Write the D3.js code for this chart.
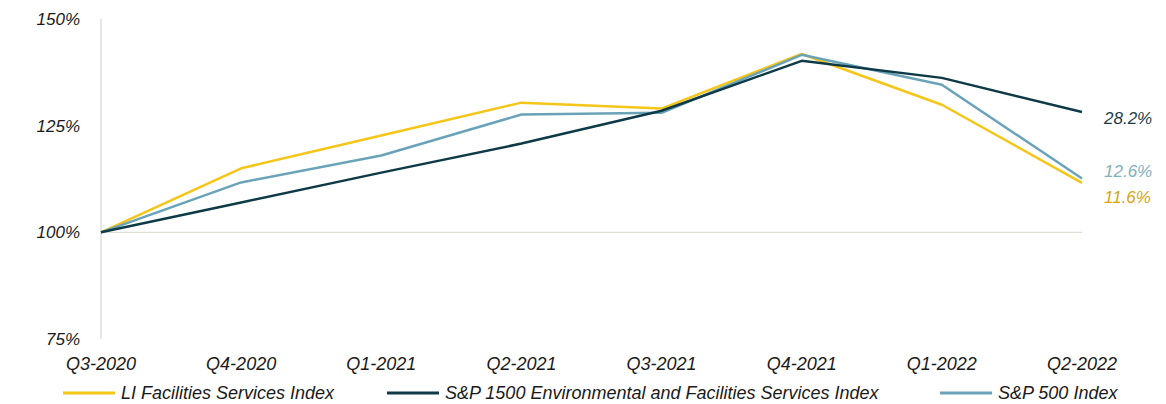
<!DOCTYPE html>
<html>
<head>
<meta charset="utf-8">
<script src="https://cdn.jsdelivr.net/npm/d3@7"></script>
<style>
  body { margin: 0; background: #fff; }
  text { font-family: "Liberation Sans", Arial, sans-serif; font-style: italic; }
</style>
</head>
<body>
<svg id="chart"></svg>
<script>
// Quarterly index performance (Q3-2020 = 100%)
const quarters = ["Q3-2020", "Q4-2020", "Q1-2021", "Q2-2021", "Q3-2021", "Q4-2021", "Q1-2022", "Q2-2022"];
const liFacilities = [100, 115.0, 122.7, 130.4, 129.0, 141.8, 129.9, 111.6];
const sp1500Env = [100, 107.0, 114.0, 120.8, 128.5, 140.2, 136.2, 128.2];
const sp500 = [100, 111.7, 118.0, 127.6, 128.0, 141.6, 134.6, 112.6];
const yTicks = [75, 100, 125, 150];
const seriesNames = ["LI Facilities Services Index", "S&P 1500 Environmental and Facilities Services Index", "S&P 500 Index"];
const endLabels = ["11.6%", "28.2%", "12.6%"];

const width = 1166, height = 404;
const colors = ["#f5c518", "#0e3a47", "#6aa3b8"];
const labelColors = ["#d4a514", "#1c3f4b", "#7fb0c3"];

const series = [liFacilities, sp1500Env, sp500].map((vals, i) => ({
    name: seriesNames[i], values: vals, color: colors[i], label: endLabels[i], labelColor: labelColors[i]
}));

const svg = d3.select("#chart")
    .attr("width", width)
    .attr("height", height);

const x = d3.scalePoint()
    .domain(quarters)
    .range([101, 1082]);

const y = d3.scaleLinear()
    .domain([75, 150])
    .range([339, 19]);

// y axis line
svg.append("line")
    .attr("x1", x(quarters[0])).attr("x2", x(quarters[0]))
    .attr("y1", y(150)).attr("y2", y(75))
    .style("stroke", "#dbd6ce")
    .style("stroke-width", 1.2);

// baseline at 100%
svg.append("line")
    .attr("x1", x(quarters[0])).attr("x2", x(quarters[quarters.length - 1]))
    .attr("y1", y(100)).attr("y2", y(100))
    .style("stroke", "#e2ded7")
    .style("stroke-width", 1.2);

// y tick labels
svg.selectAll(".ytick")
    .data(yTicks)
    .enter()
    .append("text")
    .attr("class", "ytick")
    .attr("x", 80)
    .attr("y", d => y(d))
    .attr("dy", "0.35em")
    .style("text-anchor", "end")
    .style("font-size", "17px")
    .style("fill", "#1a1a1a")
    .text(d => d + "%");

// x tick labels
svg.selectAll(".xtick")
    .data(quarters)
    .enter()
    .append("text")
    .attr("class", "xtick")
    .attr("x", d => x(d))
    .attr("y", 364)
    .attr("dy", "0.35em")
    .style("text-anchor", "middle")
    .style("font-size", "18px")
    .style("fill", "#1a1a1a")
    .text(d => d);

const line = d3.line()
    .x((d, i) => x(quarters[i]))
    .y(d => y(d));

// draw order: yellow, light blue, dark on top
[0, 2, 1].forEach(i => {
    svg.append("path")
        .datum(series[i].values)
        .attr("d", line)
        .style("fill", "none")
        .style("stroke", series[i].color)
        .style("stroke-width", 2.5)
        .style("stroke-linejoin", "round");
});

// end labels
const labelY = [197, 118, 171];
series.forEach((s, i) => {
    svg.append("text")
        .attr("x", 1104)
        .attr("y", labelY[i])
        .attr("dy", "0.35em")
        .style("font-size", "17px")
        .style("fill", s.labelColor)
        .text(s.label);
});

// legend
const legendX = [63, 387, 940];
const legend = svg.selectAll(".legend")
    .data(series)
    .enter()
    .append("g")
    .attr("class", "legend")
    .attr("transform", (d, i) => `translate(${legendX[i]},393)`);

legend.append("line")
    .attr("x1", 0).attr("x2", 52)
    .attr("y1", 0).attr("y2", 0)
    .style("stroke", d => d.color)
    .style("stroke-width", 3);

legend.append("text")
    .attr("x", 58)
    .attr("y", 0)
    .attr("dy", "0.35em")
    .style("font-size", "18px")
    .style("fill", "#1a1a1a")
    .text(d => d.name);
</script>
</body>
</html>
